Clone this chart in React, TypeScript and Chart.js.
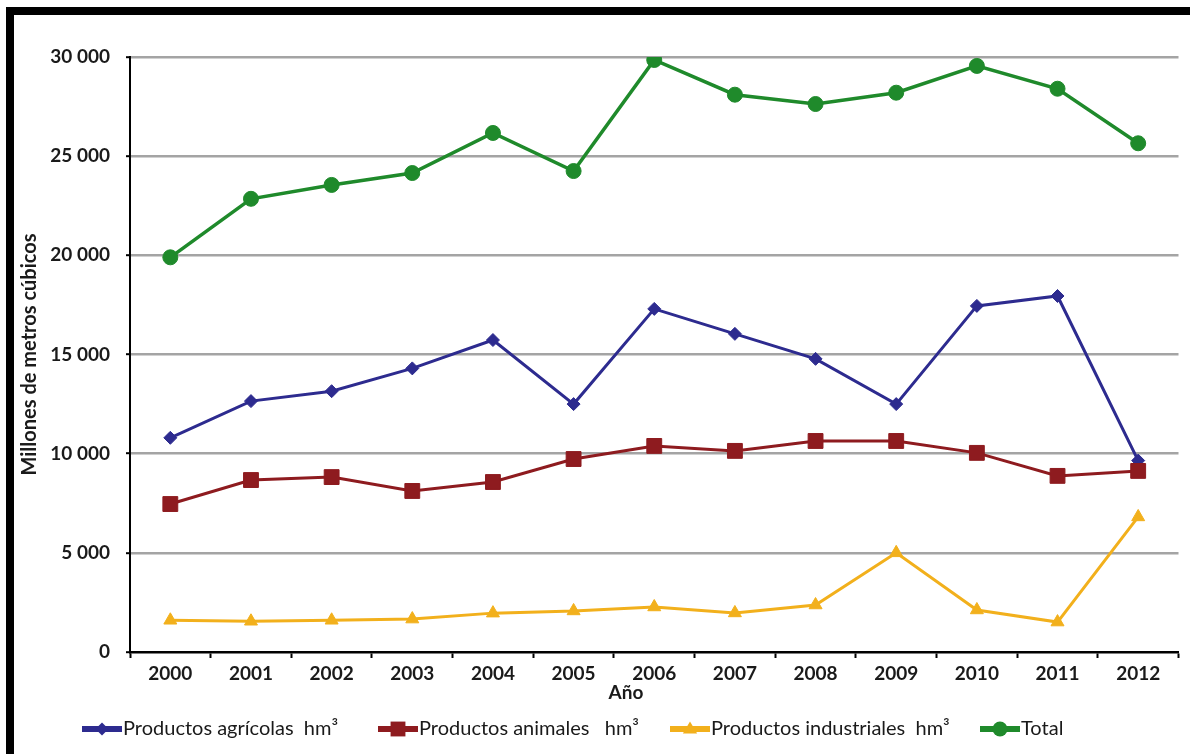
import { useEffect, useRef } from 'react';
import { Chart, registerables } from 'chart.js';

Chart.register(...registerables);

// Water footprint by product group, millions of cubic metres (hm³)
const years = ['2000', '2001', '2002', '2003', '2004', '2005', '2006', '2007', '2008', '2009', '2010', '2011', '2012'];
const agricolas = [10800, 12650, 13150, 14300, 15730, 12500, 17300, 16040, 14780, 12500, 17450, 17950, 9650];
const animales = [7460, 8670, 8820, 8120, 8570, 9730, 10390, 10140, 10640, 10640, 10040, 8880, 9130];
const industriales = [1600, 1550, 1600, 1660, 1960, 2070, 2270, 1970, 2370, 5000, 2120, 1510, 6810];
const total = [19900, 22850, 23550, 24150, 26170, 24250, 29850, 28100, 27630, 28200, 29550, 28400, 25650];

const seriesLabels = [
  'Productos agrícolas  hm³',
  'Productos animales   hm³',
  'Productos industriales  hm³',
  'Total',
];
const yTicks = [0, 5000, 10000, 15000, 20000, 25000, 30000];
const yTitle = 'Millones de metros cúbicos';
const xTitle = 'Año';

const COLORS = ['#2d2b8f', '#8e1b1f', '#f2b01c', '#1f8a2b'];
const STYLES = ['rectRot', 'rect', 'triangle', 'circle'];
const RADII = [6.5, 10.5, 7.5, 7.5];
const LINE_WIDTHS = [3, 3, 3, 3.5];
const TEXT = '#1a1a1a';

const fmt = (v: number) => String(v).replace(/\B(?=(\d{3})+(?!\d))/g, ' ');

function drawMarker(ctx: CanvasRenderingContext2D, style: string, x: number, y: number, r: number) {
  ctx.beginPath();
  if (style === 'circle') {
    ctx.arc(x, y, r, 0, Math.PI * 2);
  } else if (style === 'rect') {
    const s = r * Math.SQRT1_2;
    ctx.rect(x - s, y - s, 2 * s, 2 * s);
  } else if (style === 'rectRot') {
    ctx.moveTo(x, y - r);
    ctx.lineTo(x + r, y);
    ctx.lineTo(x, y + r);
    ctx.lineTo(x - r, y);
    ctx.closePath();
  } else {
    ctx.moveTo(x, y - r);
    ctx.lineTo(x + r * 0.95, y + r * 0.6);
    ctx.lineTo(x - r * 0.95, y + r * 0.6);
    ctx.closePath();
  }
  ctx.fill();
}

// Axis title under the categories and the line-with-marker legend row
const legendPlugin = {
  id: 'seriesLegend',
  afterDraw(chart: any) {
    const ctx: CanvasRenderingContext2D = chart.ctx;
    ctx.save();
    ctx.fillStyle = TEXT;
    ctx.font = 'bold 19px Lato';
    ctx.textAlign = 'center';
    ctx.textBaseline = 'middle';
    ctx.fillText(xTitle, 626, 693);

    const starts = [82, 378, 670, 980];
    const y = 729;
    const lineLen = 40;
    chart.data.datasets.forEach((ds: any, i: number) => {
      const x0 = starts[i];
      ctx.strokeStyle = COLORS[i];
      ctx.fillStyle = COLORS[i];
      ctx.lineWidth = 6;
      ctx.beginPath();
      ctx.moveTo(x0, y);
      ctx.lineTo(x0 + lineLen, y);
      ctx.stroke();
      drawMarker(ctx, STYLES[i], x0 + lineLen / 2, y, RADII[i]);
      ctx.fillStyle = TEXT;
      ctx.font = '20px Lato';
      ctx.textAlign = 'left';
      ctx.fillText(ds.label, x0 + lineLen + 1, y);
    });
    ctx.restore();
  },
};

export default function App() {
  const canvasRef = useRef<HTMLCanvasElement>(null);

  useEffect(() => {
    const canvas = canvasRef.current;
    if (!canvas) return;
    const series = [agricolas, animales, industriales, total];
    const chart = new Chart(canvas, {
      type: 'line',
      data: {
        labels: years,
        datasets: series.map((data, i) => ({
          label: seriesLabels[i],
          data,
          borderColor: COLORS[i],
          backgroundColor: COLORS[i],
          borderWidth: LINE_WIDTHS[i],
          pointStyle: STYLES[i] as any,
          pointRadius: RADII[i],
          pointBorderWidth: 1,
          pointBorderColor: COLORS[i],
          pointBackgroundColor: COLORS[i],
          tension: 0,
          order: 4 - i,
        })),
      },
      options: {
        responsive: false,
        animation: false,
        events: [],
        layout: { padding: { left: 0, right: 7, top: 57, bottom: 0 } },
        plugins: {
          legend: { display: false },
          tooltip: { enabled: false },
          title: { display: false },
        },
        scales: {
          x: {
            offset: true,
            grid: {
              display: true,
              offset: true,
              drawOnChartArea: false,
              drawTicks: true,
              tickLength: 6,
              tickColor: '#000',
              tickWidth: 2,
            },
            border: { display: true, color: '#000', width: 2.5 },
            ticks: {
              color: TEXT,
              font: { family: 'Lato', size: 19, weight: 'bold' },
              padding: 4,
              maxRotation: 0,
            },
            afterFit(scale: any) {
              scale.height = 102;
            },
          },
          y: {
            min: 0,
            max: 30000,
            afterBuildTicks(scale: any) {
              scale.ticks = yTicks.map((value) => ({ value }));
            },
            grid: {
              color: (c: any) => (c.tick && c.tick.value === 0 ? 'rgba(0,0,0,0)' : '#a4a4a4'),
              lineWidth: 2.4,
              drawTicks: true,
              tickLength: 4,
              tickColor: '#000',
              tickWidth: 2,
            },
            border: { display: true, color: '#000', width: 2 },
            ticks: {
              color: TEXT,
              font: { family: 'Lato', size: 19, weight: 'bold' },
              padding: 16,
              callback: (v: any) => fmt(Number(v)),
            },
            title: {
              display: true,
              text: yTitle,
              color: TEXT,
              font: { family: 'Lato', size: 20, weight: 'bold' },
              padding: { top: 18, bottom: 0 },
            },
            afterFit(scale: any) {
              scale.width = 130;
            },
          },
        },
      },
      plugins: [legendPlugin],
    });
    return () => chart.destroy();
  }, []);

  return (
    <div
      style={{
        position: 'fixed',
        left: 0,
        top: 0,
        width: 1190,
        height: 754,
        background: '#fff',
        overflow: 'hidden',
      }}
    >
      <canvas
        ref={canvasRef}
        width={1190}
        height={754}
        style={{ position: 'absolute', left: 0, top: 0, width: 1190, height: 754 }}
      />
      <div style={{ position: 'absolute', left: 6, top: 7, width: 1184, height: 8, background: '#000' }} />
      <div style={{ position: 'absolute', left: 6, top: 7, width: 8, height: 747, background: '#000' }} />
    </div>
  );
}
